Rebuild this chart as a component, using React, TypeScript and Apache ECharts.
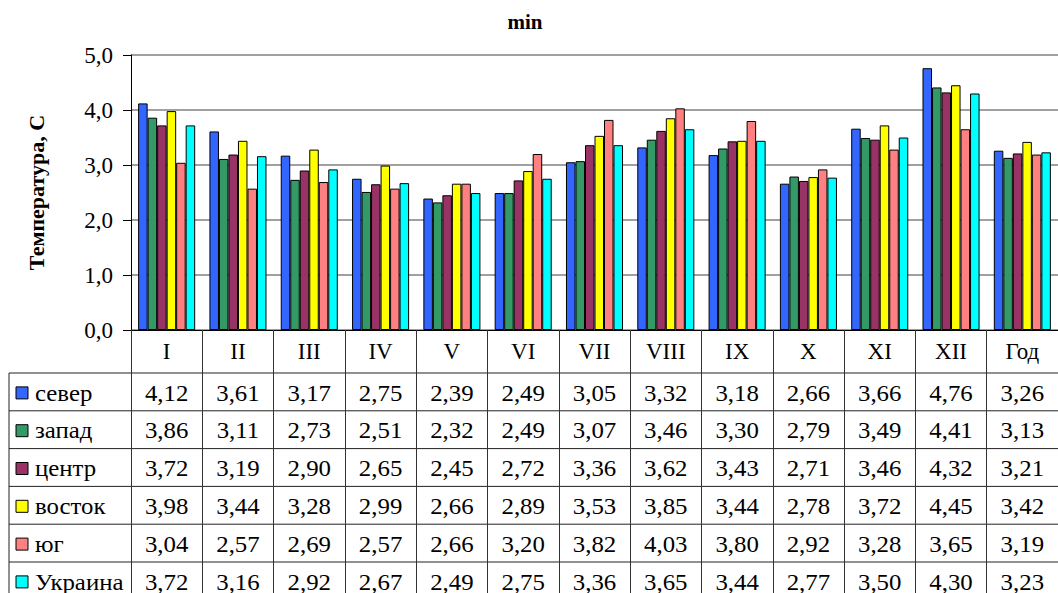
import React, { useEffect, useRef } from "react";
import * as echarts from "echarts";

const categories = ["I", "II", "III", "IV", "V", "VI", "VII", "VIII", "IX", "X", "XI", "XII", "Год"];
const seriesNames = ["север", "запад", "центр", "восток", "юг", "Украина"];
const colors = ["#3366FF", "#339966", "#993366", "#FFFF00", "#FF8080", "#00FFFF"];
const sever = [4.12, 3.61, 3.17, 2.75, 2.39, 2.49, 3.05, 3.32, 3.18, 2.66, 3.66, 4.76, 3.26];
const zapad = [3.86, 3.11, 2.73, 2.51, 2.32, 2.49, 3.07, 3.46, 3.3, 2.79, 3.49, 4.41, 3.13];
const centr = [3.72, 3.19, 2.9, 2.65, 2.45, 2.72, 3.36, 3.62, 3.43, 2.71, 3.46, 4.32, 3.21];
const vostok = [3.98, 3.44, 3.28, 2.99, 2.66, 2.89, 3.53, 3.85, 3.44, 2.78, 3.72, 4.45, 3.42];
const yug = [3.04, 2.57, 2.69, 2.57, 2.66, 3.2, 3.82, 4.03, 3.8, 2.92, 3.28, 3.65, 3.19];
const ukraina = [3.72, 3.16, 2.92, 2.67, 2.49, 2.75, 3.36, 3.65, 3.44, 2.77, 3.5, 4.3, 3.23];
const allSeries = [sever, zapad, centr, vostok, yug, ukraina];
const yTicks = [0, 1, 2, 3, 4, 5];

const FONT = "Liberation Serif";
const W = 1058;
const H = 593;
const GRID_LEFT = 131;
const GRID_TOP = 55;
const GRID_BOTTOM_Y = 330;
const TABLE_LEFT = 9;
const ROW_TOP = 373;
const ROW_H = 37.8;
const TEXT_SCALE_X = 1.08;

const fmt = (v: number) => v.toFixed(2).replace(".", ",");

export default function App() {
  const ref = useRef<HTMLDivElement>(null);
  useEffect(() => {
    if (!ref.current) return;
    const chart = echarts.init(ref.current, null, { renderer: "svg" });
    const option: any = {
      animation: false,
      backgroundColor: "#ffffff",
      title: {
        text: "min",
        left: 520,
        top: 6,
        textAlign: "center",
        textStyle: { fontFamily: FONT, fontSize: 21, fontWeight: "bold", color: "#000" },
      },
      grid: { left: GRID_LEFT, right: 0, top: GRID_TOP, bottom: H - GRID_BOTTOM_Y, containLabel: false },
      xAxis: {
        type: "category",
        data: categories,
        axisLine: { lineStyle: { color: "#000", width: 1 } },
        axisTick: { show: true, length: 280, inside: false, lineStyle: { color: "#333", width: 1 } },
        axisLabel: { fontFamily: FONT, fontSize: 23, color: "#000", margin: 10, interval: 0 },
      },
      yAxis: {
        type: "value",
        min: yTicks[0],
        max: yTicks[yTicks.length - 1],
        interval: 1,
        name: "Температура, С",
        nameLocation: "middle",
        nameGap: 84,
        nameRotate: 90,
        nameTextStyle: { fontFamily: FONT, fontSize: 22, fontWeight: "bold", color: "#000" },
        axisLine: { show: true, lineStyle: { color: "#000", width: 1 } },
        axisTick: { show: true, length: 8, lineStyle: { color: "#000" } },
        axisLabel: {
          fontFamily: FONT,
          fontSize: 23,
          color: "#000",
          margin: 18,
          formatter: (v: number) => v.toFixed(1).replace(".", ","),
        },
        splitLine: { show: true, lineStyle: { color: "#808080", width: 1.5 } },
      },
      series: seriesNames.map((name, i) => ({
        name,
        type: "bar",
        data: allSeries[i],
        barGap: "0%",
        barCategoryGap: "20%",
        itemStyle: { color: colors[i], borderColor: "#000", borderWidth: 1 },
      })),
    };
    chart.setOption(option);

    const xs = categories.map((c) => chart.convertToPixel({ xAxisIndex: 0 }, c) as number);
    const graphics: any[] = [];
    for (let r = 0; r < seriesNames.length; r++) {
      const y = ROW_TOP + r * ROW_H;
      graphics.push({
        type: "line",
        shape: { x1: TABLE_LEFT, y1: y, x2: W, y2: y },
        style: { stroke: "#222", lineWidth: 1 },
        silent: true,
      });
    }
    graphics.push({
      type: "line",
      shape: { x1: TABLE_LEFT, y1: ROW_TOP, x2: TABLE_LEFT, y2: H },
      style: { stroke: "#222", lineWidth: 1 },
      silent: true,
    });
    seriesNames.forEach((name, r) => {
      const cy = ROW_TOP + r * ROW_H + ROW_H / 2 + 1;
      graphics.push({
        type: "rect",
        shape: { x: 16, y: cy - 6, width: 12, height: 12 },
        style: { fill: colors[r], stroke: "#000", lineWidth: 1 },
        silent: true,
      });
      graphics.push({
        type: "text",
        x: 35,
        y: cy,
        scaleX: TEXT_SCALE_X,
        style: {
          text: name,
          x: 0,
          y: 0,
          align: "left",
          verticalAlign: "middle",
          fontFamily: FONT,
          fontSize: 23,
          fill: "#000",
        },
        silent: true,
      });
      allSeries[r].forEach((v, j) => {
        graphics.push({
          type: "text",
          x: xs[j],
          y: cy,
          scaleX: TEXT_SCALE_X,
          style: {
            text: fmt(v),
            x: 0,
            y: 0,
            align: "center",
            verticalAlign: "middle",
            fontFamily: FONT,
            fontSize: 23,
            fill: "#000",
          },
          silent: true,
        });
      });
    });
    chart.setOption({ graphic: graphics });

    return () => chart.dispose();
  }, []);
  return (
    <div
      ref={ref}
      style={{ position: "fixed", left: 0, top: 0, width: W, height: H, background: "#fff" }}
    />
  );
}
